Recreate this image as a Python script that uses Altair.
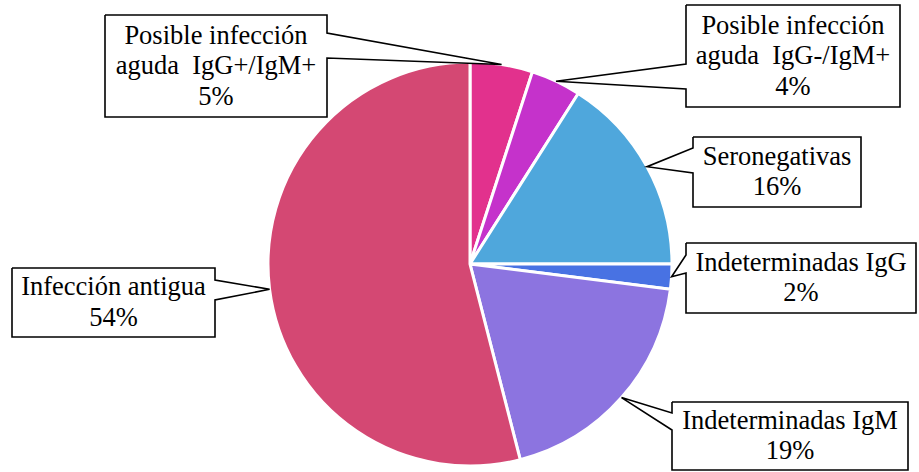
import altair as alt
import numpy as np
import pandas as pd

# --- data -------------------------------------------------------------
categories = [
    "Posible infección aguda  IgG+/IgM+",
    "Posible infección aguda  IgG-/IgM+",
    "Seronegativas",
    "Indeterminadas IgG",
    "Indeterminadas IgM",
    "Infección antigua",
]
values = [5, 4, 16, 2, 19, 54]
label_lines = [
    ["Posible infección", "aguda\u00a0 IgG+/IgM+"],
    ["Posible infección", "aguda\u00a0 IgG-/IgM+"],
    ["Seronegativas"],
    ["Indeterminadas IgG"],
    ["Indeterminadas IgM"],
    ["Infección antigua"],
]
colors = ["#E2318D", "#C532CB", "#4FA7DC", "#4872E3", "#8C74E0", "#D44873"]

# --- layout -----------------------------------------------------------
W, H = 919, 472
CX, CY, R = 470, 264, 202
# callout boxes: left, right, top, bottom, side of pointer, pointer base
box_x0 = [105, 686, 693, 686, 672, 12]
box_x1 = [327, 900, 861, 916, 908, 215]
box_y0 = [15, 5, 137, 243, 402, 268]
box_y1 = [117, 107, 207, 313, 470, 337]
ptr_side = ["right", "left", "left", "left", "left", "right"]
ptr_b0 = [33, 64, 148, 255, 413, 280]
ptr_b1 = [58, 89, 173, 273, 430, 300]
LINE_H = 30.5
FONT = "'Times New Roman', 'Liberation Serif', serif"

pie = pd.DataFrame({
    "cat": categories,
    "value": values,
    "ord": list(range(len(values))),
})

# pointer tips sit on the rim at each slice's mid angle
vals = np.array(values, dtype=float)
mid = (np.cumsum(vals) - vals / 2) / vals.sum() * 2 * np.pi
tip_x = CX + R * np.sin(mid)
tip_y = CY - R * np.cos(mid)

outline_rows = []
text_rows = []
for i, cat in enumerate(categories):
    x0, x1, y0, y1 = box_x0[i], box_x1[i], box_y0[i], box_y1[i]
    b0, b1 = ptr_b0[i], ptr_b1[i]
    tx, ty = tip_x[i], tip_y[i]
    if ptr_side[i] == "right":
        pts = [(x0, y0), (x1, y0), (x1, b0), (tx, ty), (x1, b1),
               (x1, y1), (x0, y1), (x0, y0)]
    else:
        pts = [(x0, y0), (x1, y0), (x1, y1), (x0, y1), (x0, b1),
               (tx, ty), (x0, b0), (x0, y0)]
    for k, (px, py) in enumerate(pts):
        outline_rows.append({"id": i, "k": k, "px": px, "py": py})

    lines = label_lines[i] + [f"{values[i]}%"]
    n = len(lines)
    cy = (y0 + y1) / 2
    for j, ln in enumerate(lines):
        text_rows.append({
            "tx": (x0 + x1) / 2,
            "ty": cy + (j - (n - 1) / 2) * LINE_H,
            "txt": ln,
        })

outline = pd.DataFrame(outline_rows)
texts = pd.DataFrame(text_rows)

xs = alt.Scale(domain=[0, W], range=[0, W], nice=False, zero=False)
ys = alt.Scale(domain=[0, H], range=[0, H], nice=False, zero=False)

arcs = alt.Chart(pie).mark_arc(
    radius=R, stroke="white", strokeWidth=3
).encode(
    theta=alt.Theta("value:Q", stack=True),
    color=alt.Color("cat:N", scale=alt.Scale(domain=categories, range=colors),
                    legend=None),
    order=alt.Order("ord:Q"),
    x=alt.value(CX),
    y=alt.value(CY),
)

boxes = alt.Chart(outline).mark_line(
    color="black", strokeWidth=1.6, strokeJoin="miter"
).encode(
    x=alt.X("px:Q", scale=xs, axis=None),
    y=alt.Y("py:Q", scale=ys, axis=None),
    detail="id:N",
    order="k:Q",
)

labels = alt.Chart(texts).mark_text(
    font=FONT, fontSize=26.5, color="black",
    align="center", baseline="middle",
).encode(
    x=alt.X("tx:Q", scale=xs, axis=None),
    y=alt.Y("ty:Q", scale=ys, axis=None),
    text="txt:N",
)

chart = alt.layer(arcs, boxes, labels).properties(
    width=W, height=H,
    autosize=alt.AutoSizeParams(type="none"),
    padding=0,
    background="white",
).configure_view(stroke=None)

chart.save("out.html", embed_options={"renderer": "svg", "actions": False})
